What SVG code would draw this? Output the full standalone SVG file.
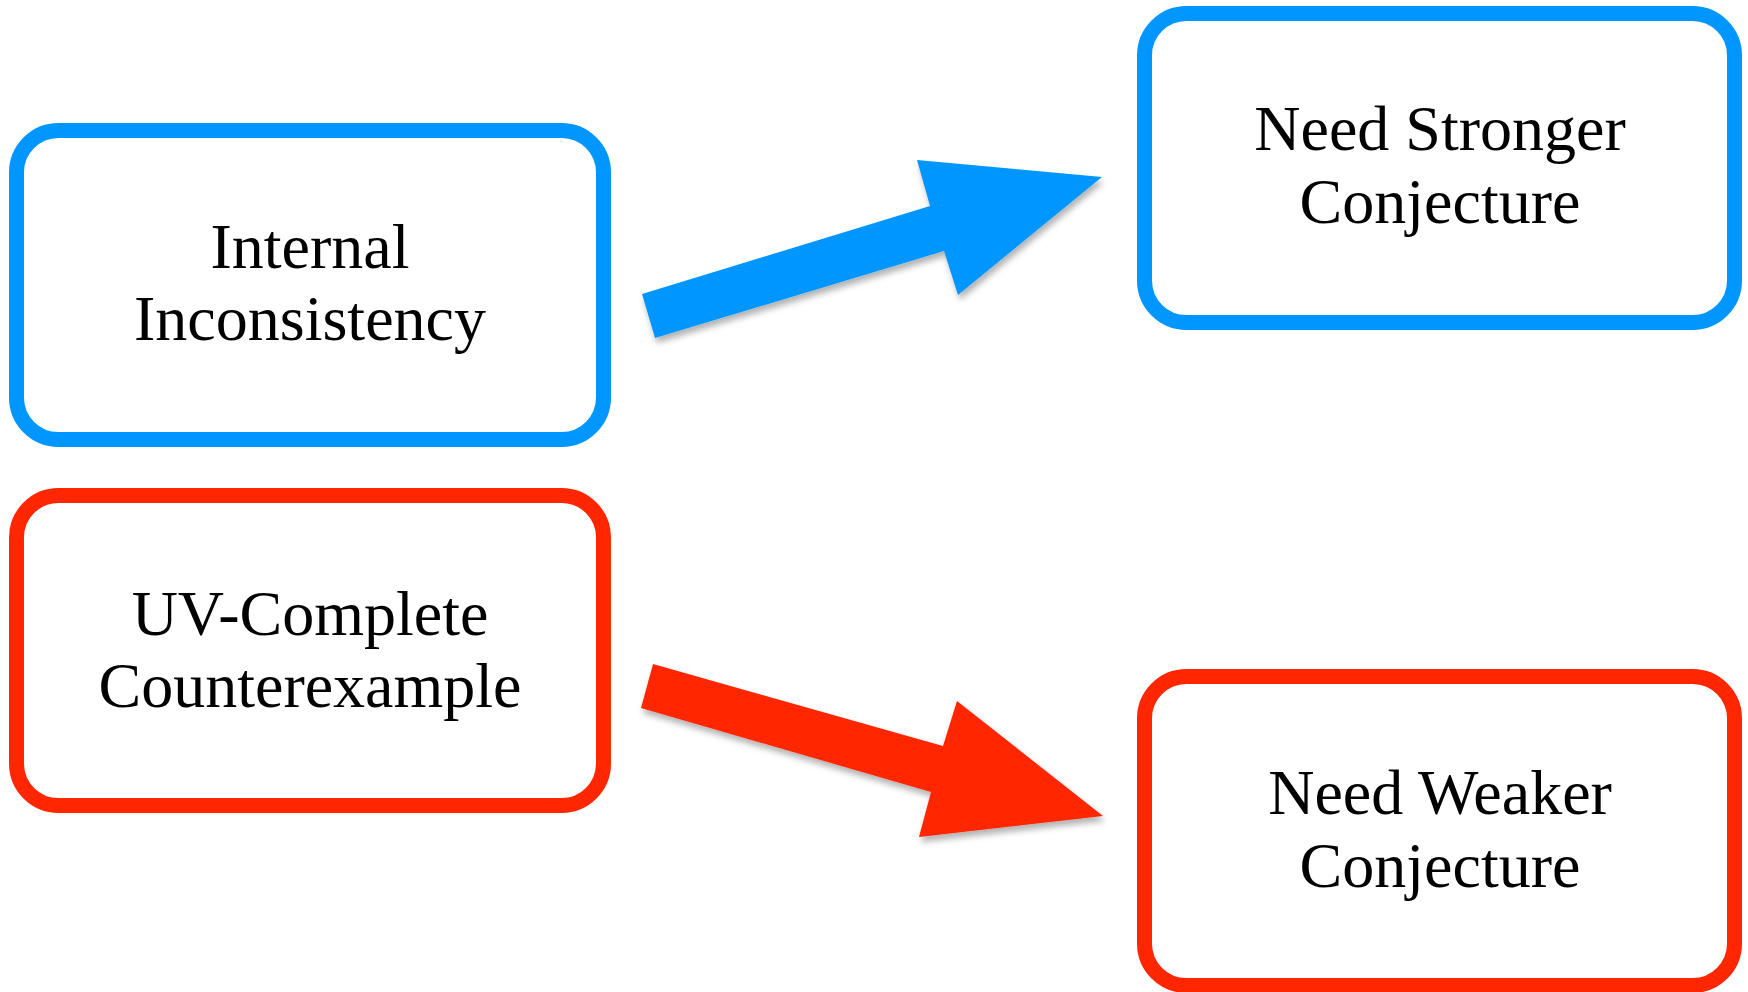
<svg xmlns="http://www.w3.org/2000/svg" width="1748" height="992" viewBox="0 0 1748 992">
<style>
.box{fill:#fff;stroke-width:15}
.blue{stroke:#0096FF}
.red{stroke:#FF2600}
.lbl{font-family:"Liberation Serif","Times New Roman",serif;font-size:64px;fill:#000;text-anchor:middle}
</style>
<defs>
<filter id="sh" x="-10%" y="-10%" width="130%" height="140%">
<feDropShadow dx="2" dy="5" stdDeviation="3" flood-color="#000" flood-opacity="0.3"/>
</filter>
</defs>
<rect width="1748" height="992" fill="#fff"/>
<g id="connectors">
<polygon filter="url(#sh)" fill="#0096FF" points="642,294 930,206 917,160 1102,177 958,295 944,251 655,338"/>
<polygon filter="url(#sh)" fill="#FF2600" points="653,664 943,746 957,701 1103,816 919,837 931,792 641,708"/>
</g>
<g id="internal">
<rect class="box blue" x="16.5" y="130.5" width="587" height="309" rx="42"/>
<text class="lbl" x="310" y="268">Internal</text>
<text class="lbl" x="310" y="340">Inconsistency</text>
</g>
<g id="stronger">
<rect class="box blue" x="1144.5" y="13.5" width="590" height="309" rx="42"/>
<text class="lbl" x="1440" y="150">Need Stronger</text>
<text class="lbl" x="1440" y="223">Conjecture</text>
</g>
<g id="uvcomplete">
<rect class="box red" x="16.5" y="495.5" width="587" height="310" rx="42"/>
<text class="lbl" x="310" y="635">UV-Complete</text>
<text class="lbl" x="310" y="707">Counterexample</text>
</g>
<g id="weaker">
<rect class="box red" x="1144.5" y="676.5" width="590" height="309" rx="42"/>
<text class="lbl" x="1440" y="814">Need Weaker</text>
<text class="lbl" x="1440" y="887">Conjecture</text>
</g>
</svg>
